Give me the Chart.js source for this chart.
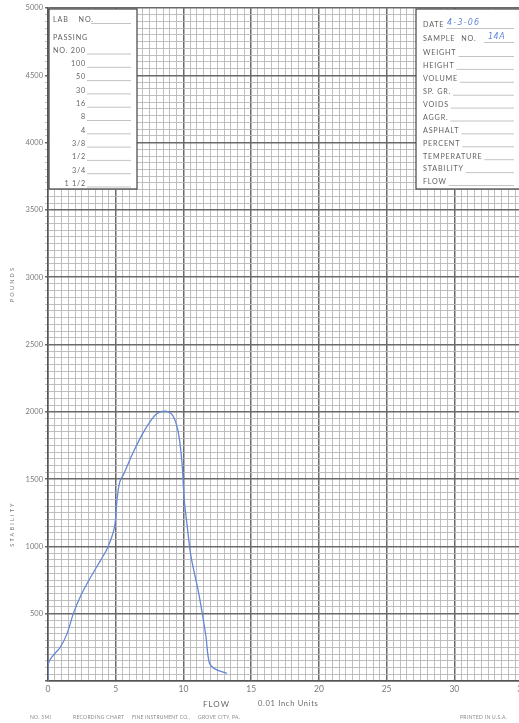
<!DOCTYPE html>
<html>
<head>
<meta charset="utf-8">
<title>Recording Chart</title>
<script src="https://cdn.jsdelivr.net/npm/chart.js@4.4.1/dist/chart.umd.min.js"></script>
<style>
  html, body { margin: 0; padding: 0; background: #ffffff; overflow: hidden; }
  #wrap { width: 530px; height: 723px; }
</style>
</head>
<body>
<div id="wrap"><canvas id="chart" width="530" height="723"></canvas></div>
<script>
// Flow (0.01 inch units) and stability (pounds) along the recorded load curve
const flow = [0, 0, 0.3, 0.9, 1.4, 1.9, 2.4, 3.0, 3.9, 4.4, 4.9, 5.1, 5.3, 5.6, 6.25, 7.0, 7.7, 8.2, 8.9, 9.3, 9.65, 9.9, 10.05, 10.3, 10.55, 11.15, 11.65, 11.9, 12.25, 13.2];
const pounds = [0, 120, 180, 250, 350, 510, 630, 745, 900, 990, 1140, 1350, 1480, 1540, 1690, 1840, 1950, 1995, 2000, 1955, 1830, 1610, 1360, 1130, 930, 640, 340, 140, 94, 57];

// Axis ranges and grid spacing
const flowRange = [0, 35];
const poundRange = [0, 5000];
const flowMinor = 0.5, flowMajor = 5;
const poundMinor = 50, poundMajor = 500;

// Form fields printed on the chart paper
const sieveRows = ['NO. 200', '100', '50', '30', '16', '8', '4', '3/8', '1/2', '3/4', '1 1/2'];
const specimenRows = ['WEIGHT', 'HEIGHT', 'VOLUME', 'SP. GR.', 'VOIDS', 'AGGR.', 'ASPHALT', 'PERCENT', 'TEMPERATURE', 'STABILITY', 'FLOW'];
const dateEntry = '4-3-06';
const sampleEntry = '14A';

const points = flow.map((f, i) => ({ x: f, y: pounds[i] }));

const FONT = 'Lato, "DejaVu Sans", sans-serif';
const INK = '#626262';
const PEN = '#6388d8';

function isMajor(v, step) {
  return Math.abs(v / step - Math.round(v / step)) < 1e-6;
}

// Printed boxes, axis captions and footer of the recording chart
const paperPlugin = {
  id: 'paper',
  afterDraw(chart) {
    const ctx = chart.ctx;
    const a = chart.chartArea;
    ctx.save();

    function text(str, x, y, opts) {
      opts = opts || {};
      ctx.font = (opts.style || '') + ' ' + (opts.size || 7.2) + 'px ' + (opts.family || FONT);
      ctx.fillStyle = opts.color || INK;
      ctx.textAlign = opts.align || 'left';
      ctx.textBaseline = 'middle';
      ctx.letterSpacing = (opts.spacing !== undefined ? opts.spacing : 0.8) + 'px';
      ctx.fillText(str, x, y);
      const w = ctx.measureText(str).width;
      ctx.letterSpacing = '0px';
      return w;
    }
    function rule(x1, x2, y) {
      ctx.strokeStyle = '#9a9a9a';
      ctx.lineWidth = 0.6;
      ctx.beginPath();
      ctx.moveTo(x1, y + 0.5);
      ctx.lineTo(x2, y + 0.5);
      ctx.stroke();
    }

    // Left box: sieve sizes
    const top = a.top + 1, bottom = 189;
    const lx = a.left + 1, lw = 88;
    ctx.fillStyle = '#ffffff';
    ctx.fillRect(lx, top, lw, bottom - top);
    ctx.strokeStyle = '#444444';
    ctx.lineWidth = 1.2;
    ctx.strokeRect(lx, top, lw, bottom - top);

    let w = text('LAB', lx + 4, 20);
    w = text('NO.', lx + 14 + w, 20);
    rule(lx + 42, lx + lw - 6, 23);
    text('PASSING', lx + 4, 38);
    sieveRows.forEach((label, i) => {
      const y = 50.5 + i * 13.3;
      if (i === 0) text(label, lx + 4, y);
      else text(label, lx + 37, y, { align: 'right' });
      rule(lx + 38, lx + lw - 6, y + 3);
    });

    // Right box: specimen record
    const rx = 416;
    ctx.fillStyle = '#ffffff';
    ctx.fillRect(rx, top, chart.width - rx + 5, bottom - top);
    ctx.strokeStyle = '#444444';
    ctx.lineWidth = 1.2;
    ctx.strokeRect(rx, top, chart.width - rx + 5, bottom - top);

    w = text('DATE', rx + 7, 25);
    rule(rx + 9 + w, 514, 28);
    text(dateEntry, rx + 31, 23, { color: PEN, style: 'italic', size: 8, spacing: 1.2, family: '"DejaVu Sans", sans-serif' });
    w = text('SAMPLE', rx + 7, 39);
    text('NO.', rx + 13 + w, 39);
    rule(rx + 68, 514, 42);
    text(sampleEntry, rx + 72, 37, { color: PEN, style: 'italic', size: 8, spacing: 0.5, family: '"DejaVu Sans", sans-serif' });
    specimenRows.forEach((label, i) => {
      const y = 53 + i * 12.9;
      const tw = text(label, rx + 7, y);
      rule(rx + 9 + tw, 514, y + 3);
    });

    // Vertical axis captions
    function vtext(str, x, y) {
      ctx.save();
      ctx.translate(x, y);
      ctx.rotate(-Math.PI / 2);
      text(str, 0, 0, { align: 'center', size: 5.5, spacing: 2.2, color: '#777777' });
      ctx.restore();
    }
    vtext('POUNDS', 12, 284);
    vtext('STABILITY', 12, 524);

    // Horizontal axis caption
    text('FLOW', 203, 704, { size: 8, spacing: 1, color: '#666666' });
    text('0.01 Inch Units', 258, 704, { size: 7.5, spacing: 0.7, color: '#666666' });

    // Footer
    const foot = { size: 5, spacing: 0.3, color: '#8a8a8a' };
    text('NO. 5MI', 30, 717, foot);
    text('RECORDING CHART', 73, 717, foot);
    text('FINE INSTRUMENT CO.,', 132, 717, { size: 5, spacing: 0.15, color: '#8a8a8a' });
    text('GROVE CITY, PA.', 198, 717, { size: 5, spacing: 0.25, color: '#8a8a8a' });
    text('PRINTED IN U.S.A.', 460, 717, foot);

    ctx.restore();
  }
};

new Chart(document.getElementById('chart'), {
  type: 'line',
  data: {
    datasets: [{
      data: points,
      borderColor: PEN,
      borderWidth: 1.3,
      pointRadius: 0,
      tension: 0.35,
      fill: false
    }]
  },
  options: {
    responsive: false,
    animation: false,
    events: [],
    layout: { padding: { left: 0, top: 8, right: 6, bottom: 0 } },
    plugins: { legend: { display: false }, tooltip: { enabled: false } },
    scales: {
      x: {
        type: 'linear',
        min: flowRange[0],
        max: flowRange[1],
        afterFit(scale) { scale.height = 42; },
        afterBuildTicks(scale) {
          const t = [];
          for (let v = flowRange[0]; v <= flowRange[1] + 1e-9; v += flowMinor) t.push({ value: v });
          scale.ticks = t;
        },
        ticks: {
          autoSkip: false,
          maxRotation: 0,
          padding: 3,
          color: '#7a7a7a',
          font: { family: FONT, size: 8.5 },
          callback: v => isMajor(v, flowMajor) ? String(v) : ''
        },
        grid: {
          drawTicks: false,
          color: c => (c.tick && isMajor(c.tick.value, flowMajor)) ? '#6a6a6a' : '#b8b8b8',
          lineWidth: c => (c.tick && isMajor(c.tick.value, flowMajor)) ? 1.5 : 0.9
        },
        border: { display: true, color: '#555555', width: 1.5 }
      },
      y: {
        type: 'linear',
        min: poundRange[0],
        max: poundRange[1],
        afterFit(scale) { scale.width = 48; },
        afterBuildTicks(scale) {
          const t = [];
          for (let v = poundRange[0]; v <= poundRange[1]; v += poundMinor) t.push({ value: v });
          scale.ticks = t;
        },
        ticks: {
          autoSkip: false,
          padding: 2,
          color: '#7a7a7a',
          font: { family: FONT, size: 7.5 },
          callback: v => (v > 0 && isMajor(v, poundMajor)) ? String(v) : ''
        },
        grid: {
          drawTicks: true,
          tickLength: 3,
          color: c => (c.tick && isMajor(c.tick.value, poundMajor)) ? '#6a6a6a' : '#b8b8b8',
          lineWidth: c => (c.tick && isMajor(c.tick.value, poundMajor)) ? 1.5 : 0.9
        },
        border: { display: true, color: '#555555', width: 1.5 }
      }
    }
  },
  plugins: [paperPlugin]
});
</script>
</body>
</html>
